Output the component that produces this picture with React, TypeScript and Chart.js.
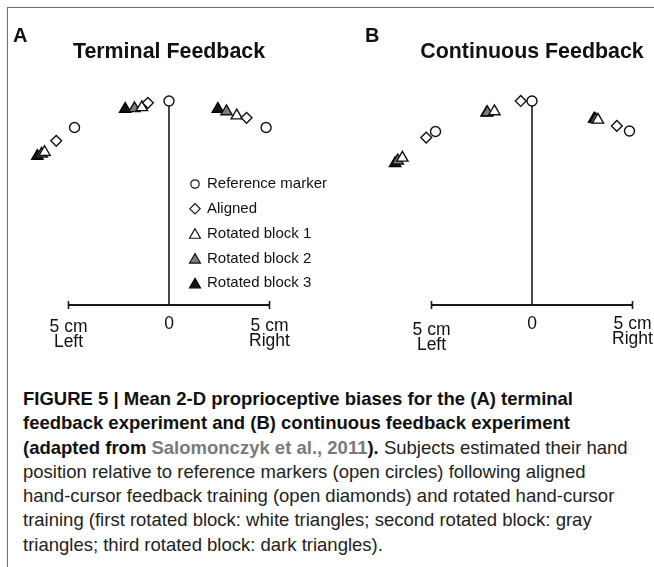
import React, { useEffect, useRef } from "react";
import { Chart, registerables } from "chart.js";
import { drawPoint } from "chart.js/helpers";

Chart.register(...registerables);

// ---------- data (cm; x: left/right of start, y: forward distance) ----------
const seriesNames = ["Reference marker", "Aligned", "Rotated block 1", "Rotated block 2", "Rotated block 3"];

// Panel A: Terminal Feedback
const termRefX = [-4.7, 0, 4.83];
const termRefY = [8.83, 10.15, 8.83];
const termAlignedX = [-5.61, -1.05, 3.86];
const termAlignedY = [8.17, 10.06, 9.31];
const termRot1X = [-6.19, -1.35, 3.37];
const termRot1Y = [7.6, 9.83, 9.42];
const termRot2X = [-6.34, -1.72, 2.86];
const termRot2Y = [7.52, 9.78, 9.63];
const termRot3X = [-6.55, -2.18, 2.43];
const termRot3Y = [7.41, 9.75, 9.75];

// Panel B: Continuous Feedback
const contRefX = [-4.8, 0, 4.85];
const contRefY = [8.63, 10.15, 8.66];
const contAlignedX = [-5.26, -0.56, 4.22];
const contAlignedY = [8.33, 10.15, 8.91];
const contRot1X = [-6.45, -1.87, 3.28];
const contRot1Y = [7.32, 9.63, 9.21];
const contRot2X = [-6.68, -2.22, 3.17];
const contRot2Y = [7.18, 9.58, 9.24];
const contRot3X = [-6.81, -2.26, 3.09];
const contRot3Y = [7.05, 9.56, 9.26];

const tickValues = [-5, 0, 5];
const tickLabels = [["5 cm", "Left"], ["0"], ["5 cm", "Right"]];

// ---------- styles ----------
const seriesStyles = [
  { pointStyle: "circle", radius: 5, bg: "#ffffff", border: "#111111" },
  { pointStyle: "rectRot", radius: 5.4, bg: "#ffffff", border: "#111111" },
  { pointStyle: "triangle", radius: 6.5, bg: "#ffffff", border: "#111111" },
  { pointStyle: "triangle", radius: 6.5, bg: "#7d7d7d", border: "#111111" },
  { pointStyle: "triangle", radius: 6.5, bg: "#161616", border: "#000000" },
];

const PPC = 20.1; // pixels per cm
const CANVAS_H = 370;
const AXIS_Y = 305;
const FONT = '"Liberation Sans", Arial, Helvetica, sans-serif';

const zip = (xs: number[], ys: number[]) => xs.map((x, i) => ({ x, y: ys[i] }));

const decorPlugin = {
  id: "panelDecor",
  beforeDatasetsDraw(chart: any, _a: any, opts: any) {
    const { ctx } = chart;
    const xs = chart.scales.x;
    const ys = chart.scales.y;
    const y0 = ys.getPixelForValue(0);
    const x0 = xs.getPixelForValue(0);
    ctx.save();
    ctx.strokeStyle = "#1a1a1a";
    ctx.lineWidth = 1.8;
    ctx.beginPath();
    const xl = xs.getPixelForValue(tickValues[0]);
    const xr = xs.getPixelForValue(tickValues[tickValues.length - 1]);
    ctx.moveTo(xl, y0);
    ctx.lineTo(xr, y0);
    ctx.stroke();
    ctx.lineWidth = 1.6;
    ctx.beginPath();
    [xl, xr].forEach((px) => {
      ctx.moveTo(px, y0 - 4);
      ctx.lineTo(px, y0 + 4);
    });
    ctx.stroke();
    // stem from origin to the central reference marker
    ctx.lineWidth = 1.6;
    ctx.beginPath();
    ctx.moveTo(x0, y0);
    ctx.lineTo(x0, ys.getPixelForValue(opts.stemTop));
    ctx.stroke();
    // tick labels
    ctx.fillStyle = "#111";
    ctx.font = `17.5px ${FONT}`;
    ctx.textAlign = "center";
    ctx.textBaseline = "middle";
    tickValues.forEach((v, i) => {
      const px = xs.getPixelForValue(v);
      tickLabels[i].forEach((line, j) => {
        ctx.fillText(line, px, y0 + opts.labelOffsets[i] + j * 15);
      });
    });
    ctx.restore();
  },
  afterDatasetsDraw(chart: any, _a: any, opts: any) {
    const { ctx } = chart;
    const xs = chart.scales.x;
    ctx.save();
    ctx.fillStyle = "#111";
    ctx.textBaseline = "middle";
    ctx.textAlign = "left";
    ctx.font = `bold 20px ${FONT}`;
    ctx.fillText(opts.letter, opts.letterX, 36.5);
    ctx.textAlign = "center";
    ctx.font = `bold 21.4px ${FONT}`;
    ctx.fillText(opts.title, xs.getPixelForValue(0), 52);
    if (opts.legend) {
      const lx = opts.legend.x;
      const ly = opts.legend.y;
      ctx.font = `15px ${FONT}`;
      ctx.textAlign = "left";
      chart.data.datasets.forEach((ds: any, i: number) => {
        const y = ly + i * 24.8;
        const st = seriesStyles[i];
        ctx.fillStyle = st.bg;
        ctx.strokeStyle = st.border;
        ctx.lineWidth = 1.2;
        const r = st.pointStyle === "circle" ? 4.2 : st.pointStyle === "rectRot" ? 5.2 : 6.3;
        const dy = st.pointStyle === "triangle" ? 1.5 : 0;
        drawPoint(ctx, { pointStyle: st.pointStyle, radius: r, rotation: 0, borderWidth: 1.2 }, lx, y + dy);
        ctx.fillStyle = "#111";
        ctx.fillText(ds.label, lx + 12, y);
      });
    }
    ctx.restore();
  },
};

function buildDatasets(xsArr: number[][], ysArr: number[][]) {
  return seriesNames.map((name, i) => ({
    label: name,
    data: zip(xsArr[i], ysArr[i]),
    pointStyle: seriesStyles[i].pointStyle,
    pointRadius: seriesStyles[i].radius,
    pointHoverRadius: seriesStyles[i].radius,
    pointBackgroundColor: seriesStyles[i].bg,
    pointBorderColor: seriesStyles[i].border,
    pointBorderWidth: 1.4,
    showLine: false,
  }));
}

function Panel(props: {
  left: number;
  width: number;
  zeroX: number;
  title: string;
  letter: string;
  letterX: number;
  xsArr: number[][];
  ysArr: number[][];
  labelOffsets: number[];
  legend?: { x: number; y: number };
}) {
  const ref = useRef<HTMLCanvasElement | null>(null);
  useEffect(() => {
    if (!ref.current) return;
    const xMin = -props.zeroX / PPC;
    const xMax = (props.width - props.zeroX) / PPC;
    const yMin = -(CANVAS_H - AXIS_Y) / PPC;
    const yMax = AXIS_Y / PPC;
    const chart = new Chart(ref.current, {
      type: "scatter",
      data: { datasets: buildDatasets(props.xsArr, props.ysArr) as any },
      options: {
        animation: false,
        responsive: false,
        devicePixelRatio: 1,
        layout: { padding: 0, autoPadding: false },
        scales: {
          x: { type: "linear", min: xMin, max: xMax, display: false },
          y: { type: "linear", min: yMin, max: yMax, display: false },
        },
        plugins: {
          legend: { display: false },
          tooltip: { enabled: false },
          title: { display: false },
          panelDecor: {
            title: props.title,
            letter: props.letter,
            letterX: props.letterX,
            stemTop: props.ysArr[0][1],
            labelOffsets: props.labelOffsets,
            legend: props.legend,
          },
        } as any,
        events: [],
      },
      plugins: [decorPlugin],
    });
    return () => chart.destroy();
  }, []);
  return (
    <canvas
      ref={ref}
      width={props.width}
      height={CANVAS_H}
      style={{ position: "absolute", left: props.left, top: 0, width: props.width, height: CANVAS_H }}
    />
  );
}

const captionLine: React.CSSProperties = { whiteSpace: "nowrap", height: 24.3, lineHeight: "24.3px" };

export default function App() {
  return (
    <div
      style={{
        position: "fixed",
        left: 0,
        top: 0,
        width: 654,
        height: 567,
        background: "#fff",
        overflow: "hidden",
        fontFamily: FONT,
      }}
    >
      <div style={{ position: "absolute", left: 7, top: 7, width: 647, height: 1.3, background: "#6e6e6e" }} />
      <div style={{ position: "absolute", left: 7, top: 7, width: 1.3, height: 560, background: "#6e6e6e" }} />
      <Panel
        left={0}
        width={330}
        zeroX={169}
        title="Terminal Feedback"
        letter="A"
        letterX={13}
        xsArr={[termRefX, termAlignedX, termRot1X, termRot2X, termRot3X]}
        ysArr={[termRefY, termAlignedY, termRot1Y, termRot2Y, termRot3Y]}
        labelOffsets={[22, 19, 21]}
        legend={{ x: 195, y: 184 }}
      />
      <Panel
        left={330}
        width={324}
        zeroX={202}
        title="Continuous Feedback"
        letter="B"
        letterX={35}
        xsArr={[contRefX, contAlignedX, contRot1X, contRot2X, contRot3X]}
        ysArr={[contRefY, contAlignedY, contRot1Y, contRot2Y, contRot3Y]}
        labelOffsets={[25, 19, 19]}
      />
      <div
        style={{
          position: "absolute",
          left: 23,
          top: 387,
          fontSize: 18.5,
          color: "#222",
        }}
      >
        <div style={{ ...captionLine, fontWeight: "bold", color: "#111" }}>
          FIGURE 5 | Mean 2-D proprioceptive biases for the (A) terminal
        </div>
        <div style={{ ...captionLine, fontWeight: "bold", color: "#111" }}>
          feedback experiment and (B) continuous feedback experiment
        </div>
        <div style={captionLine}>
          <b style={{ color: "#111" }}>(adapted from </b>
          <b style={{ color: "#7a7a7a" }}>Salomonczyk et al., 2011</b>
          <b style={{ color: "#111" }}>).</b> Subjects estimated their hand
        </div>
        <div style={captionLine}>position relative to reference markers (open circles) following aligned</div>
        <div style={captionLine}>hand-cursor feedback training (open diamonds) and rotated hand-cursor</div>
        <div style={captionLine}>training (first rotated block: white triangles; second rotated block: gray</div>
        <div style={captionLine}>triangles; third rotated block: dark triangles).</div>
      </div>
    </div>
  );
}
